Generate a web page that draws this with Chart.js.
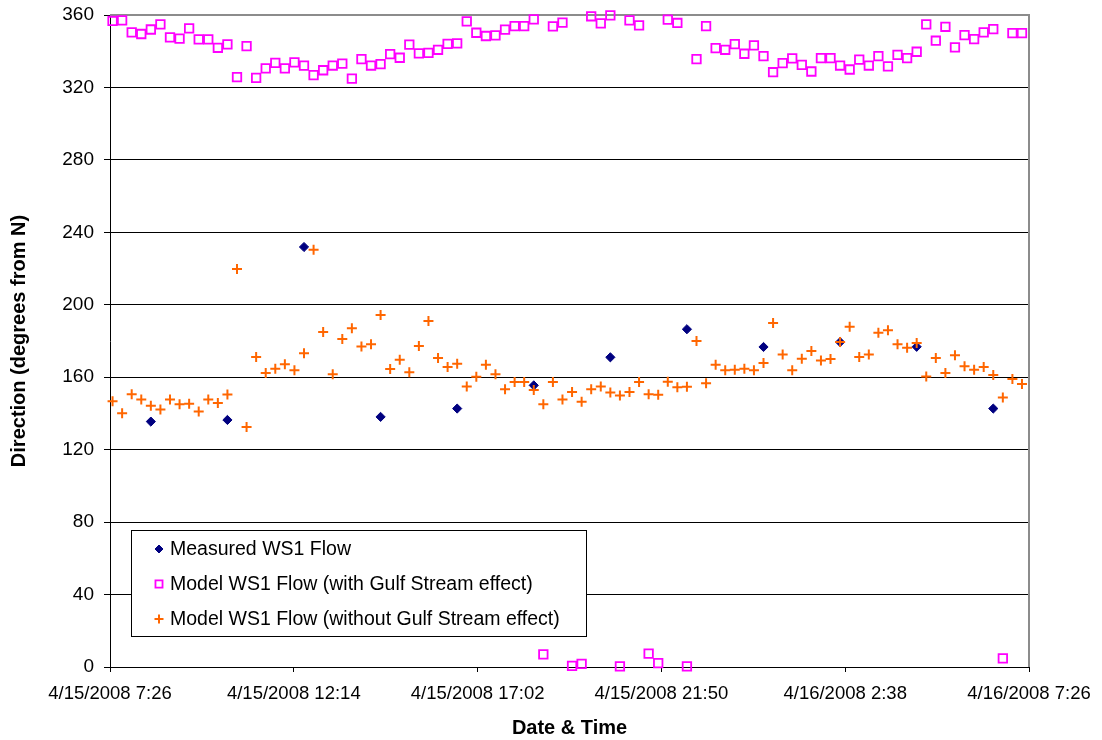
<!DOCTYPE html>
<html>
<head>
<meta charset="utf-8">
<title>WS1 flow direction</title>
<script src="https://cdn.jsdelivr.net/npm/chart.js@4.4.1/dist/chart.umd.min.js"></script>
<style>
  html, body { margin: 0; padding: 0; background: #fff; }
  #wrap { width: 1102px; height: 740px; }
</style>
</head>
<body>
<div id="wrap"><canvas id="chart" width="1102" height="740"></canvas></div>
<script>
// axis ticks
const xTickLabels = ['4/15/2008 7:26', '4/15/2008 12:14', '4/15/2008 17:02',
                     '4/15/2008 21:50', '4/16/2008 2:38', '4/16/2008 7:26'];
const yMin = 0, yMax = 360, yStep = 40;

// measured current direction, every two hours
const measuredTimes = ['4/15 8:30', '4/15 10:30', '4/15 12:30', '4/15 14:30', '4/15 16:30', '4/15 18:30',
                       '4/15 20:30', '4/15 22:30', '4/16 0:30', '4/16 2:30', '4/16 4:30', '4/16 6:30'];
const measuredDir = [135.5, 136.4, 231.9, 138.1, 142.7, 155.5, 171.0, 186.5, 176.7, 179.4, 176.8, 142.7];

// model output, every 15 minutes
const modelTimes = [
  '4/15 7:30', '4/15 7:45',
  '4/15 8:00', '4/15 8:15', '4/15 8:30', '4/15 8:45',
  '4/15 9:00', '4/15 9:15', '4/15 9:30', '4/15 9:45',
  '4/15 10:00', '4/15 10:15', '4/15 10:30', '4/15 10:45',
  '4/15 11:00', '4/15 11:15', '4/15 11:30', '4/15 11:45',
  '4/15 12:00', '4/15 12:15', '4/15 12:30', '4/15 12:45',
  '4/15 13:00', '4/15 13:15', '4/15 13:30', '4/15 13:45',
  '4/15 14:00', '4/15 14:15', '4/15 14:30', '4/15 14:45',
  '4/15 15:00', '4/15 15:15', '4/15 15:30', '4/15 15:45',
  '4/15 16:00', '4/15 16:15', '4/15 16:30', '4/15 16:45',
  '4/15 17:00', '4/15 17:15', '4/15 17:30', '4/15 17:45',
  '4/15 18:00', '4/15 18:15', '4/15 18:30', '4/15 18:45',
  '4/15 19:00', '4/15 19:15', '4/15 19:30', '4/15 19:45',
  '4/15 20:00', '4/15 20:15', '4/15 20:30', '4/15 20:45',
  '4/15 21:00', '4/15 21:15', '4/15 21:30', '4/15 21:45',
  '4/15 22:00', '4/15 22:15', '4/15 22:30', '4/15 22:45',
  '4/15 23:00', '4/15 23:15', '4/15 23:30', '4/15 23:45',
  '4/16 0:00', '4/16 0:15', '4/16 0:30', '4/16 0:45',
  '4/16 1:00', '4/16 1:15', '4/16 1:30', '4/16 1:45',
  '4/16 2:00', '4/16 2:15', '4/16 2:30', '4/16 2:45',
  '4/16 3:00', '4/16 3:15', '4/16 3:30', '4/16 3:45',
  '4/16 4:00', '4/16 4:15', '4/16 4:30', '4/16 4:45',
  '4/16 5:00', '4/16 5:15', '4/16 5:30', '4/16 5:45',
  '4/16 6:00', '4/16 6:15', '4/16 6:30', '4/16 6:45',
  '4/16 7:00', '4/16 7:15'
];

const modelWithGulf = [
  356.7, 357.0, 350.4, 349.5, 352.0, 354.8, 347.6, 347.0, 352.6, 346.5, 346.5, 341.9,
  343.8, 325.7, 342.8, 325.3, 330.5, 333.6, 330.5, 333.8, 332.0, 326.8, 329.5, 332.1,
  333.2, 324.9, 335.6, 332.1, 332.9, 338.4, 336.4, 343.6, 338.8, 339.1, 340.8, 344.1,
  344.3, 356.5, 350.2, 348.4, 348.7, 351.9, 353.9, 353.9, 357.6, 7.0, 353.7, 355.8,
  0.6, 1.7, 359.3, 355.4, 359.8, 0.3, 357.0, 354.3, 7.4, 2.1, 357.4, 355.6,
  0.3, 335.6, 353.9, 341.7, 340.8, 343.9, 338.6, 343.2, 337.3, 328.4, 333.4, 336.0,
  332.5, 328.8, 336.2, 336.2, 332.1, 329.9, 335.4, 332.1, 337.3, 331.6, 338.0, 336.2,
  339.7, 354.8, 345.8, 353.5, 342.1, 348.9, 346.7, 350.4, 352.2, 4.8, 350.0, 350.0
];

const modelWithoutGulf = [
  146.8, 140.1, 150.6, 147.7, 144.2, 142.2, 147.7, 145.1, 145.3, 141.1, 147.7, 145.8,
  150.5, 219.7, 132.5, 171.1, 162.3, 164.7, 167.1, 163.8, 173.3, 230.4, 185.0, 161.7,
  181.1, 187.0, 177.0, 178.2, 194.4, 164.5, 169.6, 162.8, 177.2, 191.1, 170.6, 165.6,
  167.4, 154.9, 160.2, 166.9, 161.7, 153.4, 157.3, 157.3, 153.0, 145.1, 157.3, 147.7,
  151.9, 146.4, 153.4, 154.9, 151.6, 149.9, 151.9, 157.3, 150.6, 150.3, 157.5, 154.4,
  154.7, 180.0, 156.7, 166.9, 163.8, 164.1, 164.7, 163.8, 167.8, 190.0, 172.6, 163.8,
  170.2, 174.5, 169.3, 170.0, 179.4, 187.9, 171.1, 172.6, 184.6, 185.9, 178.2, 176.3,
  178.9, 160.4, 170.6, 162.4, 172.1, 166.1, 164.1, 165.6, 161.2, 148.8, 159.0, 156.2
];

const FONT = '"Liberation Sans", Arial, sans-serif';
const PLOT_TOP = 15;

// "4/15 7:30" or "4/15/2008 7:30" -> minutes after 4/15 00:00
function toMinutes(s) {
  const [date, time] = s.split(' ');
  const day = Number(date.split('/')[1]);
  const [h, m] = time.split(':').map(Number);
  return (day - 15) * 1440 + h * 60 + m;
}

function points(times, values) {
  return times.map((t, i) => ({ x: toMinutes(t), y: values[i] }));
}

const xTickValues = xTickLabels.map(toMinutes);

// the layout keeps some room above the top tick label; pull the plot up to PLOT_TOP
const pinPlotTop = {
  id: 'pinPlotTop',
  afterLayout(chart) {
    const area = chart.chartArea;
    const y = chart.scales.y;
    area.top = PLOT_TOP;
    area.height = area.bottom - area.top;
    y.top = PLOT_TOP;
    y.height = y.bottom - y.top;
    y.configure();
  }
};

// grey frame on the top and right of the plot area
const plotFrame = {
  id: 'plotFrame',
  beforeDatasetsDraw(chart) {
    const { ctx, chartArea: a } = chart;
    ctx.save();
    ctx.strokeStyle = '#8c8c8c';
    ctx.lineWidth = 2;
    ctx.beginPath();
    ctx.moveTo(a.left, a.top);
    ctx.lineTo(a.right, a.top);
    ctx.lineTo(a.right, a.bottom);
    ctx.stroke();
    ctx.restore();
  }
};

// boxed legend sitting inside the plot, lower left
const insetLegend = {
  id: 'insetLegend',
  afterDraw(chart) {
    const ctx = chart.ctx;
    const left = 131, top = 530, w = 455, h = 106;
    ctx.save();
    ctx.fillStyle = '#fff';
    ctx.fillRect(left, top, w, h);
    ctx.strokeStyle = '#000';
    ctx.lineWidth = 1;
    ctx.strokeRect(left + 0.5, top + 0.5, w, h);
    ctx.font = '19.5px ' + FONT;
    ctx.textBaseline = 'middle';
    chart.data.datasets.forEach((ds, row) => {
      const y = top + 19 + row * 35;
      ctx.fillStyle = ds.pointBackgroundColor;
      ctx.strokeStyle = ds.pointBorderColor;
      ctx.lineWidth = ds.pointBorderWidth;
      Chart.helpers.drawPoint(ctx, {
        pointStyle: ds.pointStyle,
        radius: ds.legendRadius,
        borderWidth: ds.pointBorderWidth,
        rotation: 0
      }, 159, y);
      ctx.fillStyle = '#000';
      ctx.fillText(ds.label, 170, y + 1);
    });
    ctx.restore();
  }
};

new Chart(document.getElementById('chart'), {
  type: 'scatter',
  data: {
    datasets: [
      {
        label: 'Measured WS1 Flow',
        data: points(measuredTimes, measuredDir),
        pointStyle: 'rectRot',
        pointRadius: 4.6,
        legendRadius: 4,
        pointBackgroundColor: '#000080',
        pointBorderColor: '#000080',
        pointBorderWidth: 1,
        order: 3,
        clip: false
      },
      {
        label: 'Model WS1 Flow (with Gulf Stream effect)',
        data: points(modelTimes, modelWithGulf),
        pointStyle: 'rect',
        pointRadius: 6,
        legendRadius: 5,
        pointBackgroundColor: 'rgba(0,0,0,0)',
        pointBorderColor: '#ff00ff',
        pointBorderWidth: 1.8,
        order: 2,
        clip: false
      },
      {
        label: 'Model WS1 Flow (without Gulf Stream effect)',
        data: points(modelTimes, modelWithoutGulf),
        pointStyle: 'cross',
        pointRadius: 5,
        legendRadius: 4.5,
        pointBackgroundColor: '#ff6600',
        pointBorderColor: '#ff6600',
        pointBorderWidth: 2,
        order: 1,
        clip: false
      }
    ]
  },
  options: {
    responsive: false,
    animation: false,
    events: [],
    layout: { padding: { left: 0, top: 10, right: 73, bottom: 0 } },
    plugins: {
      legend: { display: false },
      tooltip: { enabled: false }
    },
    scales: {
      x: {
        type: 'linear',
        min: xTickValues[0],
        max: xTickValues[xTickValues.length - 1],
        afterBuildTicks: (scale) => {
          scale.ticks = xTickValues.map(v => ({ value: v }));
        },
        afterFit: (scale) => { scale.height = 73; },
        ticks: {
          autoSkip: false,
          maxRotation: 0,
          padding: 11,
          color: '#000',
          font: { family: FONT, size: 18.5 },
          callback: (value, index) => xTickLabels[index]
        },
        grid: { drawOnChartArea: false, tickLength: 5, color: '#000' },
        border: { color: '#000', width: 1 },
        title: {
          display: true,
          text: 'Date & Time',
          color: '#000',
          padding: { top: 0, bottom: 0 },
          font: { family: FONT, size: 20, weight: 'bold' }
        }
      },
      y: {
        min: yMin,
        max: yMax,
        afterFit: (scale) => { scale.width = 110; },
        ticks: {
          stepSize: yStep,
          padding: 10,
          color: '#000',
          font: { family: FONT, size: 19 }
        },
        grid: { color: '#000', lineWidth: 1, tickLength: 6 },
        border: { color: '#000', width: 1 },
        title: {
          display: true,
          text: 'Direction (degrees from N)',
          color: '#000',
          padding: { top: 7, bottom: 0 },
          font: { family: FONT, size: 20, weight: 'bold' }
        }
      }
    }
  },
  plugins: [pinPlotTop, plotFrame, insetLegend]
});
</script>
</body>
</html>
